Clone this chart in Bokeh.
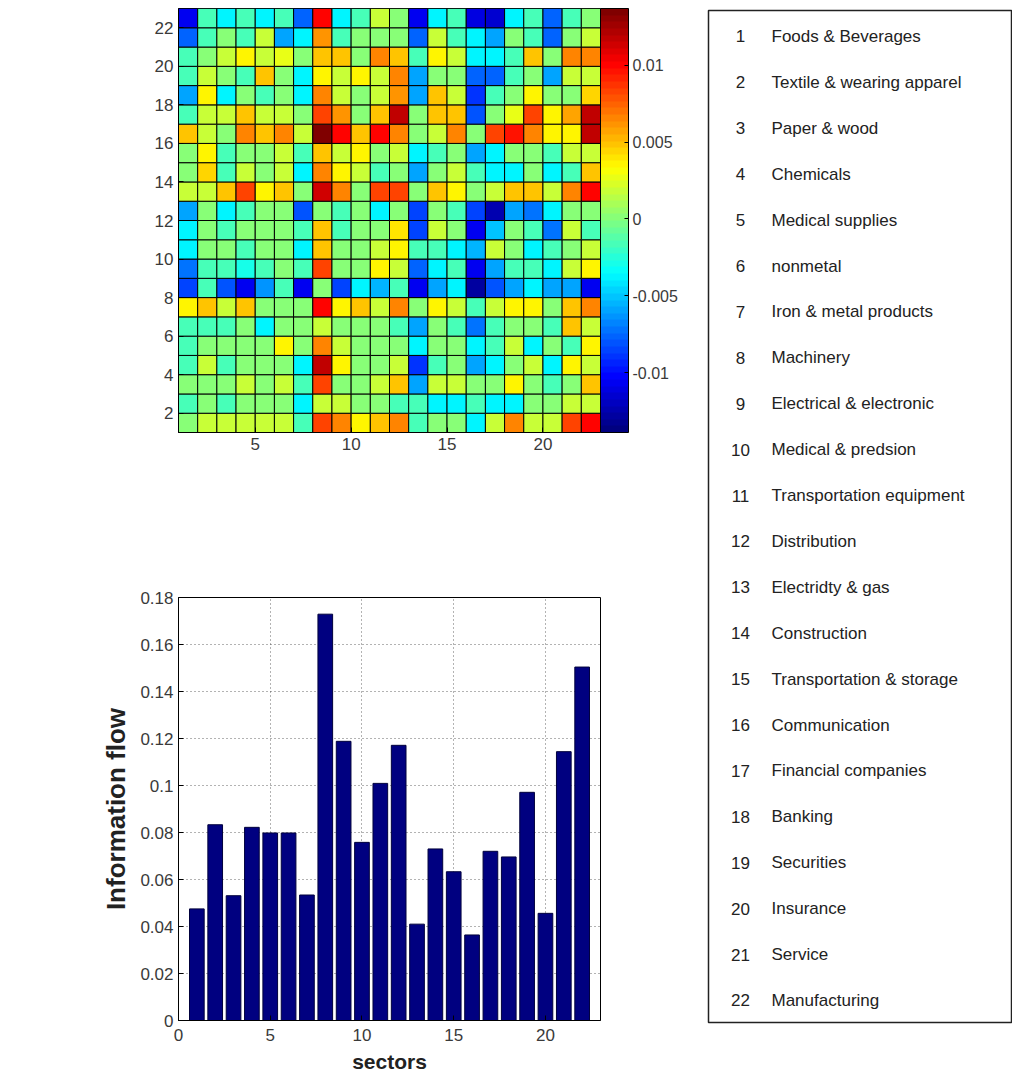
from bokeh.plotting import figure
from bokeh.models import (ColumnDataSource, LinearColorMapper, ColorBar, FixedTicker,
                          Range1d, Label)
from bokeh.layouts import row, column
from bokeh.transform import transform
from bokeh.core.properties import value
from bokeh.embed import file_html
from bokeh.resources import INLINE

# ---------------------------------------------------------------- data
sector_ids = list(range(1, 23))
sector_names = [
    "Foods & Beverages", "Textile & wearing apparel", "Paper & wood", "Chemicals",
    "Medical supplies", "nonmetal", "Iron & metal products", "Machinery",
    "Electrical & electronic", "Medical & predsion", "Transportation equipment",
    "Distribution", "Electridty & gas", "Construction", "Transportation & storage",
    "Communication", "Financial companies", "Banking", "Securities", "Insurance",
    "Service", "Manufacturing",
]

# net information flow of each sector (panel b)
information_flow = [0.0475, 0.0833, 0.0531, 0.0822, 0.0798, 0.0798, 0.0534, 0.1729,
                    0.1188, 0.0758, 0.1009, 0.1171, 0.0410, 0.0730, 0.0633, 0.0364,
                    0.0720, 0.0696, 0.0971, 0.0456, 0.1144, 0.1504]

# pairwise flow matrix (panel a); flow_matrix[r - 1][c - 1] is row r, column c
flow_matrix = [
    [0.0, 0.0018, 0.0018, 0.0018, 0.0018, 0.0018, -0.0018, 0.0082, 0.0065, 0.0035, 0.005,
     0.0065, -0.0018, 0.0, 0.0, -0.0038, 0.0018, 0.0065, 0.0018, 0.0018, 0.0082, 0.01],
    [-0.0018, 0.0, -0.0018, 0.0, 0.0, 0.0, -0.0038, 0.0018, 0.0018, 0.0, 0.0,
     -0.0018, -0.0018, -0.0038, -0.0038, -0.0018, -0.0038, -0.0038, 0.0, 0.0, 0.0018, 0.0018],
    [0.0, 0.0, 0.0, 0.0018, 0.0, 0.0018, -0.0018, 0.0082, 0.0, 0.0, 0.0018,
     0.005, -0.0058, 0.0018, 0.0018, 0.0, 0.0, 0.0035, 0.0, -0.0018, 0.0, 0.005],
    [-0.0018, 0.0018, -0.0018, 0.0, 0.0, 0.0, -0.0038, 0.0118, 0.0035, 0.0, 0.0,
     0.0018, -0.009, -0.0018, 0.0, -0.0058, -0.0038, 0.0, 0.0018, -0.0038, 0.0035, 0.0018],
    [-0.0018, 0.0, 0.0, 0.0, 0.0, 0.0035, 0.0, 0.0065, 0.0018, 0.0, 0.0,
     0.0, -0.0038, 0.0, 0.0, -0.0038, -0.0018, 0.0018, -0.0038, 0.0, -0.0018, 0.0035],
    [-0.0018, -0.0018, -0.0018, 0.0, -0.0038, 0.0, 0.0, 0.0018, 0.0, 0.0, 0.0,
     -0.0018, -0.0058, 0.0, -0.0018, -0.007, -0.0018, 0.0, 0.0, -0.0018, 0.005, 0.0018],
    [0.0035, 0.005, 0.0018, 0.005, 0.0, 0.0, 0.0, 0.01, 0.0035, 0.005, 0.0018,
     0.0065, 0.0, 0.0035, 0.0018, -0.0018, 0.0018, 0.0035, 0.0035, 0.0, 0.005, 0.0065],
    [-0.0085, -0.0018, -0.008, -0.0108, -0.0062, -0.0018, -0.0105, 0.0, -0.0085, -0.0038, -0.0055,
     -0.0018, -0.0105, -0.0058, -0.0038, -0.0128, -0.008, -0.0058, -0.0038, -0.0058, -0.0058, -0.0105],
    [-0.007, -0.0018, -0.0018, -0.003, -0.0018, 0.0, -0.0018, 0.0082, 0.0, 0.0, 0.0035,
     0.0018, -0.0075, -0.0038, -0.0018, -0.0105, -0.0058, -0.0018, -0.0018, -0.0038, 0.0018, 0.0035],
    [-0.0038, 0.0, 0.0, -0.0018, 0.0, 0.0, -0.0038, 0.005, 0.0, 0.0, 0.0018,
     0.0035, -0.0018, -0.0018, -0.0038, -0.0055, 0.0018, 0.0, -0.0038, -0.0018, 0.0, 0.0018],
    [-0.0038, 0.0, -0.0018, 0.0, 0.0, 0.0, -0.0018, 0.005, -0.0018, 0.0, 0.0,
     0.0042, -0.0085, 0.0018, 0.0, -0.0105, -0.005, 0.0, -0.0018, -0.007, 0.0018, -0.0018],
    [-0.0058, 0.0, -0.0038, -0.0018, 0.0, 0.0, -0.008, 0.0, -0.0018, 0.0, -0.0038,
     0.0, -0.0085, 0.0, -0.0018, -0.0085, -0.0125, -0.0058, -0.007, -0.0038, 0.0, 0.0],
    [0.0018, 0.0018, 0.005, 0.0085, 0.0035, 0.005, 0.0, 0.0115, 0.0065, 0.0, 0.0082,
     0.0082, 0.0, 0.005, 0.0035, 0.0, 0.0018, 0.005, 0.005, 0.0018, 0.0065, 0.01],
    [0.0, 0.0045, -0.0018, 0.0018, 0.0, 0.0018, -0.0038, 0.0065, 0.0035, 0.0018, -0.0018,
     0.0, -0.0058, 0.0, 0.0018, -0.0018, -0.0038, -0.0038, 0.0, -0.0038, -0.0018, 0.005],
    [0.0, 0.0035, -0.0018, 0.0, 0.0, 0.0018, -0.0018, 0.005, 0.0018, 0.0035, 0.0,
     0.0018, -0.0038, -0.0018, 0.0, -0.0058, -0.0038, 0.0, 0.0, -0.0018, 0.0018, 0.0018],
    [0.005, 0.0018, 0.0, 0.0065, 0.005, 0.0065, 0.0018, 0.0133, 0.01, 0.005, 0.01,
     0.0065, 0.0, 0.0018, 0.0065, 0.0, 0.0082, 0.0095, 0.0065, 0.0035, 0.0035, 0.0118],
    [-0.0018, 0.0018, 0.0018, 0.005, 0.0018, 0.0018, 0.0, 0.0085, 0.006, 0.0, 0.005,
     0.0118, 0.0, 0.005, 0.005, -0.008, 0.0, 0.0025, 0.0082, 0.0035, 0.0058, 0.0118],
    [-0.0058, 0.0035, -0.0038, 0.0, -0.0018, 0.0, -0.0038, 0.0065, 0.0018, 0.0, 0.0018,
     0.006, -0.0058, 0.005, 0.0018, -0.009, -0.0018, 0.0, 0.0035, 0.0, 0.0, 0.0045],
    [-0.0018, 0.0018, 0.0, -0.0018, 0.005, 0.0, -0.0038, 0.0035, 0.0018, 0.0035, 0.0018,
     0.0065, -0.0058, 0.0, 0.0, -0.0075, -0.0075, -0.0018, 0.0, -0.0058, 0.0018, 0.0018],
    [-0.0018, 0.0, 0.0018, 0.0035, 0.0018, 0.0025, 0.0, 0.005, 0.005, 0.0, 0.0065,
     0.005, -0.0018, 0.0035, 0.0018, -0.0038, -0.0038, -0.0018, 0.005, 0.0, 0.0065, 0.0065],
    [-0.0075, -0.0018, 0.0, -0.0018, 0.0018, -0.0058, -0.0038, 0.006, -0.0018, 0.0, 0.0,
     0.0, -0.0075, 0.0018, -0.0018, -0.0038, -0.0058, 0.0, -0.0018, -0.0075, 0.0, 0.0018],
    [-0.0105, -0.0018, -0.0038, -0.0018, -0.0038, -0.0018, -0.0075, 0.01, -0.0038, -0.0018, 0.0018,
     0.0, -0.0105, -0.0038, -0.0018, -0.011, -0.0115, -0.0038, -0.0018, -0.0075, -0.0018, 0.0],
]

colorbar_ticks = [-0.01, -0.005, 0, 0.005, 0.01]
bar_x_ticks = [0, 5, 10, 15, 20]
bar_y_ticks = [0, 0.02, 0.04, 0.06, 0.08, 0.1, 0.12, 0.14, 0.16, 0.18]

SANS = "Liberation Sans"


def jet_palette(n=64):
    """Classic 'jet' colormap: dark blue -> cyan -> yellow -> dark red."""
    out = []
    for i in range(n):
        t = i / (n - 1)
        r = min(max(1.5 - abs(4 * t - 3), 0.0), 1.0)
        g = min(max(1.5 - abs(4 * t - 2), 0.0), 1.0)
        b = min(max(1.5 - abs(4 * t - 1), 0.0), 1.0)
        out.append("#%02x%02x%02x" % (round(r * 255), round(g * 255), round(b * 255)))
    return out


def style_axis(ax, size="17px"):
    ax.major_tick_in = 5
    ax.major_tick_out = 0
    ax.minor_tick_line_color = None
    ax.axis_line_color = "black"
    ax.major_tick_line_color = "black"
    ax.major_label_text_font = SANS
    ax.major_label_text_font_size = size
    ax.major_label_text_color = "#3a3a3a"
    ax.major_label_standoff = 5


# ---------------------------------------------------------------- panel (a): heat map
xs, ys, vals = [], [], []
for r, row_vals in enumerate(flow_matrix, start=1):
    for c, v in enumerate(row_vals, start=1):
        xs.append(c + 0.5)
        ys.append(r + 0.5)
        vals.append(v)
heat_src = ColumnDataSource(dict(x=xs, y=ys, v=vals))

mapper = LinearColorMapper(palette=jet_palette(64), low=-0.0139, high=0.0137)

heat = figure(width=700, height=470, x_range=Range1d(1, 23), y_range=Range1d(1, 23),
              toolbar_location=None, output_backend="svg", title=None,
              min_border_left=177, min_border_right=100, min_border_top=8,
              min_border_bottom=38)
heat.rect(x="x", y="y", width=1, height=1, source=heat_src,
          fill_color=transform("v", mapper), line_color="black", line_width=1)
heat.grid.visible = False
heat.outline_line_color = "black"
for ax in heat.axis:
    style_axis(ax, "17px")
heat.xaxis.ticker = FixedTicker(ticks=[5, 10, 15, 20])
heat.yaxis.ticker = FixedTicker(ticks=list(range(2, 23, 2)))

cbar = ColorBar(color_mapper=mapper, width=28, margin=2, padding=0,
                ticker=FixedTicker(ticks=colorbar_ticks),
                major_label_overrides={t: f"{t:g}" for t in colorbar_ticks},
                bar_line_color="black", major_tick_line_color="black",
                major_tick_in=4, major_tick_out=0, label_standoff=4,
                major_label_text_font=SANS, major_label_text_font_size="16px",
                major_label_text_color="#3a3a3a")
heat.add_layout(cbar, "right")

heat.add_layout(Label(x=-152, y=219, x_units="screen", y_units="screen", text="(a)",
                      text_font="Liberation Serif", text_font_size="30px",
                      text_color="#333333", text_align="center", text_baseline="middle"))

# ---------------------------------------------------------------- panel (b): bars
bar = figure(width=700, height=610, x_range=Range1d(0, 23), y_range=Range1d(0, 0.18),
             toolbar_location=None, output_backend="svg", title=None,
             min_border_left=178, min_border_right=20, min_border_top=127,
             min_border_bottom=60)
bar.vbar(x=sector_ids, top=information_flow, width=0.8,
         fill_color="#000080", line_color="#00003c", line_width=1)

bar.xaxis.ticker = FixedTicker(ticks=bar_x_ticks)
bar.yaxis.ticker = FixedTicker(ticks=bar_y_ticks)
bar.yaxis.major_label_overrides = {t: f"{t:g}" for t in bar_y_ticks}
for ax in bar.axis:
    style_axis(ax, "17px")
bar.xaxis.major_label_standoff = 8
bar.xgrid.ticker = FixedTicker(ticks=bar_x_ticks)
bar.ygrid.ticker = FixedTicker(ticks=bar_y_ticks)
for g in (bar.xgrid, bar.ygrid):
    g.grid_line_color = "#333333"
    g.grid_line_dash = "1 3"
    g.grid_line_alpha = 0.75
bar.outline_line_color = "black"

bar.yaxis.axis_label = "Information flow"
bar.yaxis.axis_label_text_font = SANS
bar.yaxis.axis_label_text_font_style = "bold"
bar.yaxis.axis_label_text_font_size = "26px"
bar.yaxis.axis_label_text_color = "#222222"
bar.yaxis.axis_label_standoff = 6
bar.xaxis.axis_label = "sectors"
bar.xaxis.axis_label_text_font = SANS
bar.xaxis.axis_label_text_font_style = "bold"
bar.xaxis.axis_label_text_font_size = "21px"
bar.xaxis.axis_label_text_color = "#222222"
bar.xaxis.axis_label_standoff = 6

bar.add_layout(Label(x=-149, y=219, x_units="screen", y_units="screen", text="(b)",
                     text_font="Liberation Serif", text_font_size="30px",
                     text_color="#333333", text_align="center", text_baseline="middle"))

# ---------------------------------------------------------------- sector key
key = figure(width=312, height=1080, x_range=Range1d(0, 303), y_range=Range1d(22.48, 0.434),
             toolbar_location=None, output_backend="svg", title=None,
             x_axis_location=None, y_axis_location=None,
             min_border_left=8, min_border_right=1, min_border_top=10, min_border_bottom=58)
key.grid.visible = False
key.outline_line_color = "#222222"
key.outline_line_width = 1.5
key_src = ColumnDataSource(dict(y=sector_ids, num=[str(i) for i in sector_ids],
                                name=sector_names))
key.text(x=32, y="y", text="num", source=key_src, text_align="center",
         text_baseline="middle", text_font=value(SANS), text_font_size="17px",
         text_color="#222222")
key.text(x=63, y="y", text="name", source=key_src, text_align="left",
         text_baseline="middle", text_font=value(SANS), text_font_size="17px",
         text_color="#222222")

layout = row(column(heat, bar), key)
open("out.html", "w").write(file_html(layout, INLINE))
